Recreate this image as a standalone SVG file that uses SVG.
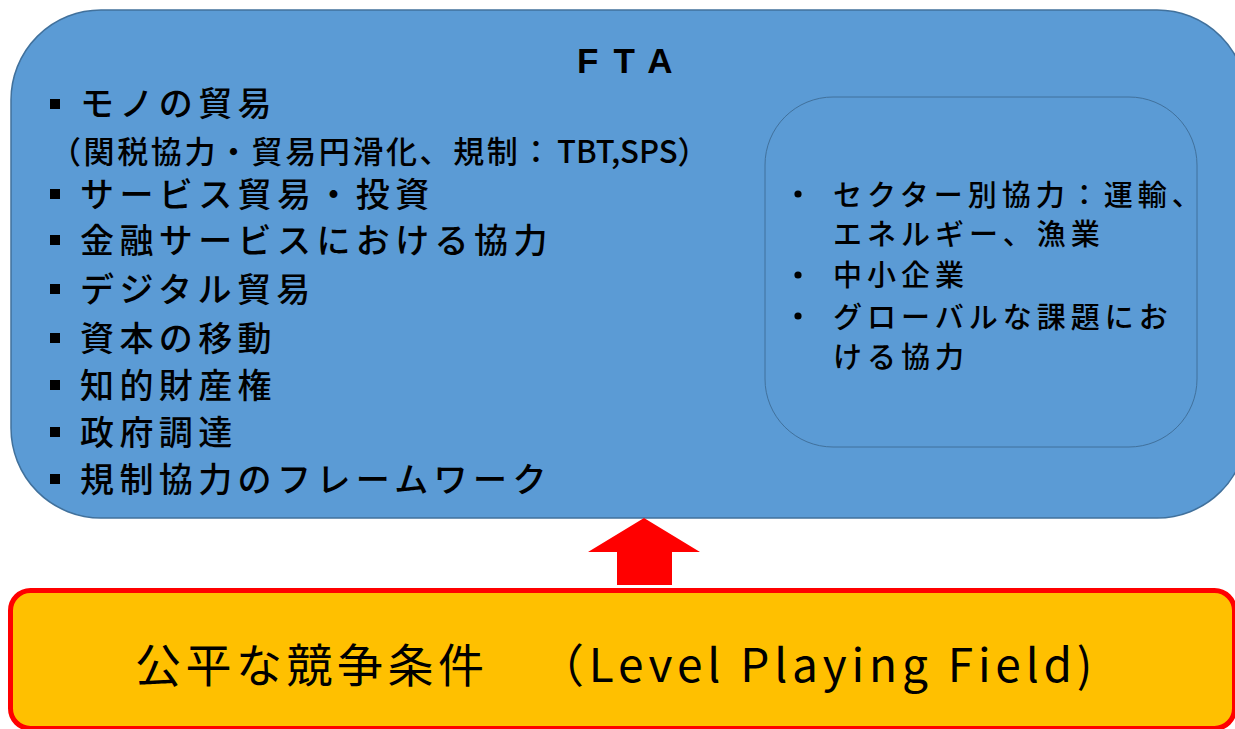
<svg xmlns="http://www.w3.org/2000/svg" width="1235" height="729" viewBox="0 0 1235 729">
  <style>
    .jp { font-family: "Noto Sans CJK JP", "Noto Sans", sans-serif; fill: #000; }
    .main { font-size: 34px; letter-spacing: 5.4px; font-weight: 500; }
    .side { font-size: 29px; letter-spacing: 5px; font-weight: 500; }
    .sq { fill: #000; }
    .dot { fill: #000; }
  </style>
  <rect width="1235" height="729" fill="#ffffff"/>

  <g id="fta">
    <rect x="11" y="10" width="1236" height="508" rx="90" ry="90" fill="#5B9BD5" stroke="#41719C" stroke-width="1.5"/>
    <text x="577" y="73" font-family="Liberation Sans, Arial, sans-serif" font-weight="bold" font-size="35" letter-spacing="15">FTA</text>
    <rect class="sq" x="50" y="99" width="10" height="10"/>
    <text class="jp main" x="80" y="116">モノの貿易</text>
    <text class="jp" x="50" y="163" font-size="31" font-weight="500"><tspan letter-spacing="2.6">（関税協力・貿易円滑化、規制：</tspan><tspan x="557">TBT,SPS）</tspan></text>
    <rect class="sq" x="50" y="189" width="10" height="10"/>
    <text class="jp main" x="80" y="207">サービス貿易・投資</text>
    <rect class="sq" x="50" y="235" width="10" height="10"/>
    <text class="jp main" x="80" y="253">金融サービスにおける協力</text>
    <rect class="sq" x="50" y="284" width="10" height="10"/>
    <text class="jp main" x="80" y="302">デジタル貿易</text>
    <rect class="sq" x="50" y="333" width="10" height="10"/>
    <text class="jp main" x="80" y="351">資本の移動</text>
    <rect class="sq" x="50" y="380" width="10" height="10"/>
    <text class="jp main" x="80" y="398">知的財産権</text>
    <rect class="sq" x="50" y="427" width="10" height="10"/>
    <text class="jp main" x="80" y="445">政府調達</text>
    <rect class="sq" x="50" y="474" width="10" height="10"/>
    <text class="jp main" x="80" y="492">規制協力のフレームワーク</text>
  </g>

  <g id="other-coop">
    <rect x="765" y="97" width="432" height="350" rx="68" ry="68" fill="#5B9BD5" stroke="#41719C" stroke-width="1"/>
    <circle class="dot" cx="798" cy="194" r="3.6"/>
    <text class="jp side" x="833" y="206">セクター別協力：運輸、</text>
    <text class="jp side" x="833" y="245">エネルギー、漁業</text>
    <circle class="dot" cx="798" cy="275" r="3.6"/>
    <text class="jp side" x="833" y="286">中小企業</text>
    <circle class="dot" cx="798" cy="316" r="3.6"/>
    <text class="jp side" x="833" y="328">グローバルな課題にお</text>
    <text class="jp side" x="833" y="368">ける協力</text>
  </g>

  <g id="connectors">
    <polygon points="644,518 700,552 672,552 672,585 617,585 617,552 588,552" fill="#FF0000"/>
  </g>

  <g id="lpf">
    <rect x="10.5" y="590.5" width="1224" height="138" rx="20" ry="20" fill="#FFC000" stroke="#FF0000" stroke-width="5"/>
    <text class="jp" x="135" y="682" font-size="46" letter-spacing="4.5">公平な競争条件　<tspan dx="22" letter-spacing="4.8">（Level Playing Field)</tspan></text>
  </g>
</svg>
